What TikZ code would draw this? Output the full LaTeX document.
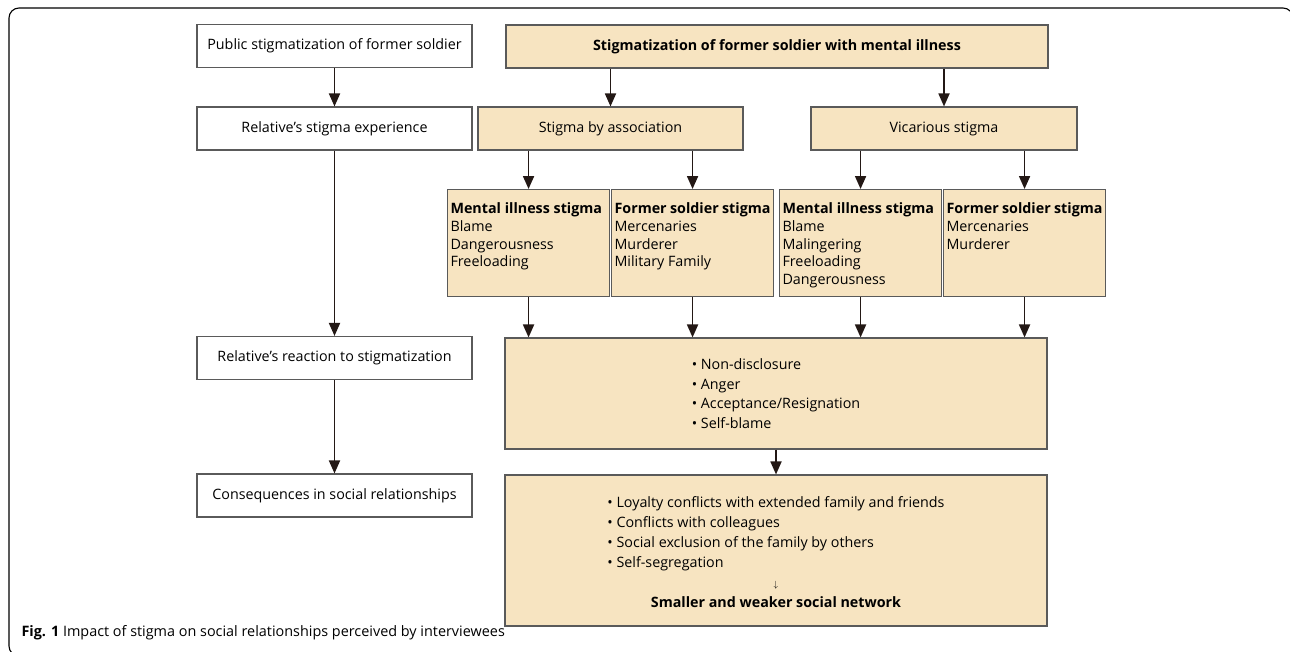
\documentclass[tikz,border=0pt]{standalone}
\usepackage{fontspec}
\setmainfont{Open Sans}
\usepackage{tikz}
\usetikzlibrary{arrows.meta, positioning}

\definecolor{tan}{RGB}{247,228,193}
\definecolor{edge}{RGB}{90,90,90}
\definecolor{ink}{RGB}{35,24,21}

\tikzset{
	box/.style={draw=edge, line width=1.1pt, fill=white, minimum height=43pt, inner sep=0pt},
	tanbox/.style={box, fill=tan},
	arr/.style={-{Triangle[width=11pt,length=13pt]}, line width=1.8pt, draw=ink}
}

\newcommand{\stigmalist}[2]{\parbox[t][101pt][t]{156pt}{\fontsize{14.3}{17.5}\selectfont\vspace*{10pt}\textbf{#1}\\[1pt]#2}}

\begin{document}
\begin{tikzpicture}[x=1pt, y=-1pt, font=\fontsize{14.3}{17.5}\selectfont]
	\useasboundingbox (0,0) rectangle (1290,651);
	\draw[line width=1.1pt, rounded corners=10pt] (9,8) rectangle (1293,656);

	%colonne de gauche
	\node[box, minimum width=275pt] (public) 	at (334.5, 46) 		{Public stigmatization of former soldier};
	\node[box, minimum width=275pt] (relative) 	at (334.5, 128.5) 	{Relative's stigma experience};
	\node[box, minimum width=275pt] (reaction) 	at (334.5, 358) 	{Relative's reaction to stigmatization};
	\node[box, minimum width=275pt] (conseq) 	at (334.5, 495.5) 	{Consequences in social relationships};

	\draw[arr] (public) to (relative);
	\draw[arr] (relative) to (reaction);
	\draw[arr] (reaction) to (conseq);

	%partie droite
	\node[tanbox, minimum width=542pt] (former) 	at (777, 46.5) 	{\textbf{Stigmatization of former soldier with mental illness}};
	\node[tanbox, minimum width=265pt] (assoc) 		at (610.5, 128.5) 	{Stigma by association};
	\node[tanbox, minimum width=266pt] (vicar) 		at (944, 128.5) 	{Vicarious stigma};

	\draw[arr] (former.south -| assoc) to (assoc);
	\draw[arr] (former.south -| vicar) to (vicar);

	\node[tanbox, anchor=north west, inner sep=3pt] (amental) 	at (447, 189) 	{\stigmalist{Mental illness stigma}{Blame\\Dangerousness\\Freeloading}};
	\node[tanbox, anchor=north west, inner sep=3pt] (asoldier) 	at (611, 189) 	{\stigmalist{Former soldier stigma}{Mercenaries\\Murderer\\Military Family}};
	\node[tanbox, anchor=north west, inner sep=3pt] (vmental) 	at (779, 189) 	{\stigmalist{Mental illness stigma}{Blame\\Malingering\\Freeloading\\Dangerousness}};
	\node[tanbox, anchor=north west, inner sep=3pt] (vsoldier) 	at (943, 189) 	{\stigmalist{Former soldier stigma}{Mercenaries\\Murderer}};

	\draw[arr] (amental.north |- assoc.south) to (amental.north);
	\draw[arr] (asoldier.north |- assoc.south) to (asoldier.north);
	\draw[arr] (vmental.north |- vicar.south) to (vmental.north);
	\draw[arr] (vsoldier.north |- vicar.south) to (vsoldier.north);

	\node[tanbox, minimum width=542pt, minimum height=111pt, align=left, font=\fontsize{14.3}{19.5}\selectfont] (react) 	at (776, 393.5) 	{\textbullet{} Non-disclosure\\\textbullet{} Anger\\\textbullet{} Acceptance/Resignation\\\textbullet{} Self-blame};
	\node[tanbox, minimum width=542pt, minimum height=151pt, align=center, font=\fontsize{14.3}{20}\selectfont] (network) 	at (776, 550.5) 	{\begin{tabular}{@{}l@{}}\textbullet{} Loyalty conflicts with extended family and friends\\\textbullet{} Conflicts with colleagues\\\textbullet{} Social exclusion of the family by others\\\textbullet{} Self-segregation\end{tabular}\\[7pt]{\small$\downarrow$}\\\textbf{Smaller and weaker social network}};

	\foreach \n in {amental, asoldier, vmental, vsoldier}
		\draw[arr] (\n.south) to (\n.south |- react.north);
	\draw[arr] (react) to (network);

	\node[anchor=west, font=\fontsize{14.4}{17}\selectfont] (caption) at (18, 633) {\textbf{Fig. 1} Impact of stigma on social relationships perceived by interviewees};
\end{tikzpicture}
\end{document}
